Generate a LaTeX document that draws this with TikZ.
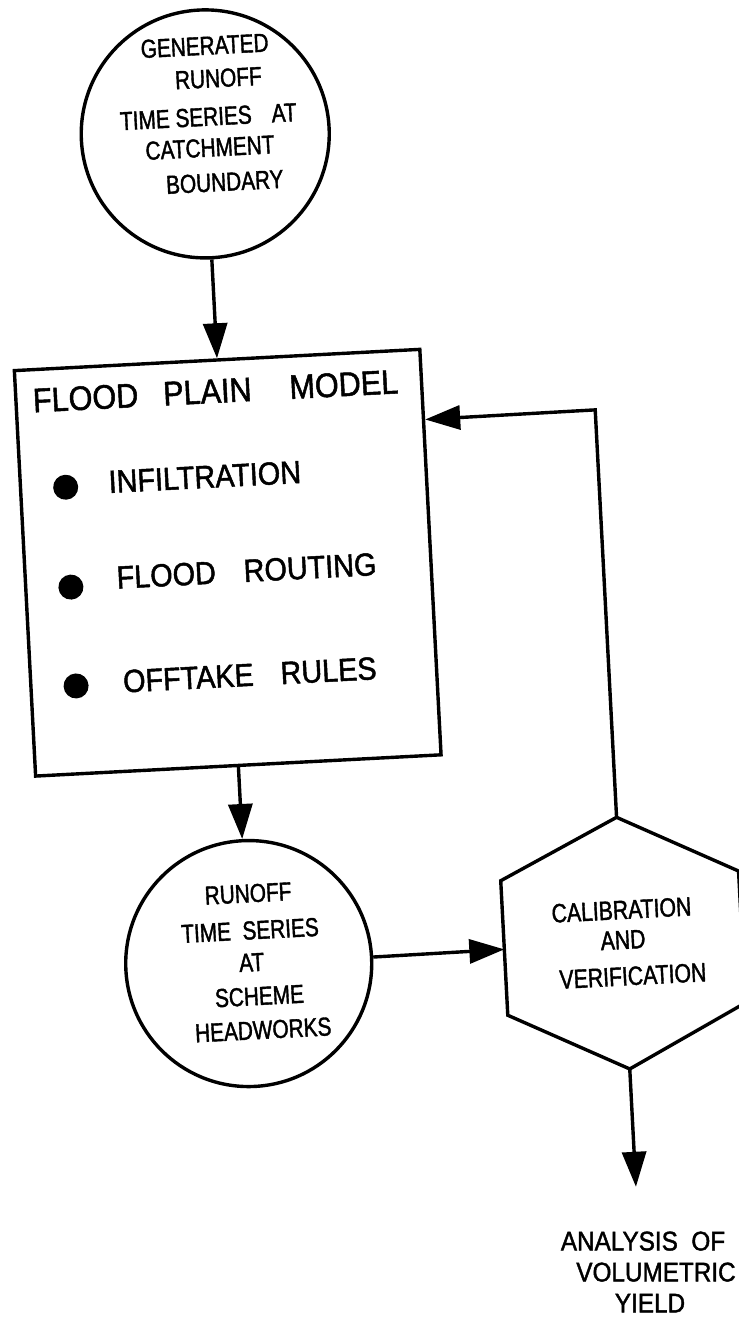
\documentclass[tikz,border=0pt]{standalone}
\usepackage{fontspec}
\setmainfont{Liberation Sans}[FakeStretch=0.9,FakeBold=1.5]
\newfontfamily\narrowfont{Liberation Sans}[FakeStretch=0.8,FakeBold=1.5]
\usetikzlibrary{arrows.meta,positioning}

\begin{document}
\begin{tikzpicture}[x=1pt,y=-1pt,line width=3.4pt,
    arr/.style={-{Triangle[length=35pt,width=24pt]}},
    ring/.style={circle,draw,minimum size=#1,inner sep=0pt},
    modelbox/.style={rectangle,draw,minimum width=406pt,minimum height=406pt,inner sep=0pt},
    blob/.style={circle,fill=black,minimum size=25pt,inner sep=0pt,outer sep=0pt},
    hexcore/.style={rectangle,minimum width=238pt,minimum height=252pt,inner sep=0pt,outer sep=0pt,
      font=\narrowfont\fontsize{26.5}{33}\selectfont,align=center},
    circtext/.style={font=\narrowfont\fontsize{26}{34}\selectfont,align=center,inner sep=0pt},
    titletext/.style={font=\fontsize{34}{40}\selectfont,inner sep=0pt},
    itemtext/.style={font=\fontsize{32}{38}\selectfont,inner sep=0pt},
    yieldtext/.style={font=\fontsize{27}{31}\selectfont,align=center,inner sep=0pt}]
  \useasboundingbox (0,0) rectangle (739,1323);
  \begin{scope}[rotate around={3:(370,660)},transform shape]
    % main chain
    \node[ring=248pt] (gen) at (233,126) {};
    \node[modelbox] (fpm) [below=99pt of gen] {};
    \node[ring=246pt] (runoff) [below=72pt of fpm] {};
    \node[hexcore] (calib) at (608,956) {CALIBRATION\\[-3pt]AND\\[3.5pt]\hspace*{16pt}VERIFICATION};
    \draw (calib.north) -- (calib.29.2) -- (calib.-29.2) -- (calib.south)
      -- (calib.209.2) -- (calib.150.8) -- cycle;
    % texts in the circles
    \node[circtext,xshift=4pt,yshift=19.5pt] (gentxt) at (gen) {GENERATED\\[-1pt]\hspace*{24pt}RUNOFF\\[4pt]TIME SERIES\hspace{20pt}AT\hspace*{26pt}\\[-3pt]CATCHMENT\hspace*{24pt}\\[1pt]\hspace*{26pt}BOUNDARY};
    \node[circtext,xshift=3pt,yshift=1.5pt] (runtxt) at (runoff) {RUNOFF\\[3pt]TIME\ \ SERIES\\[-2pt]AT\hspace*{34pt}\\\hspace*{12pt}SCHEME\\\hspace*{16pt}HEADWORKS};
    % flood plain model contents
    \node[titletext,below right=19pt and 17pt of fpm.north west] (fpmtitle) {FLOOD\hspace{25pt}PLAIN\hspace{38pt}MODEL};
    \node[blob,below right=112pt and 38pt of fpm.north west] (b1) {};
    \node[blob,below=75pt of b1] (b2) {};
    \node[blob,below=74pt of b2] (b3) {};
    \node[itemtext,right=29pt of b1,yshift=3pt] (infil) {INFILTRATION};
    \node[itemtext,right=32pt of b2,yshift=7pt] (routing) {FLOOD\hspace{28pt}ROUTING};
    \node[itemtext,right=33pt of b3,yshift=2pt] (offtake) {OFFTAKE\hspace{27pt}RULES};
    % connectors
    \coordinate[below=72pt of fpm.north east] (fbin);
    \coordinate (fbk) at (608,422);
    \coordinate (ytip) at (608,1200);
    \path[arr] (gen.south) edge (fpm.north)
      (fpm.south) edge (runoff.north)
      (runoff.east) edge (calib.west)
      (calib.south) edge (ytip);
    \draw[arr] (calib.north) -- (fbk) -- (fbin);
  \end{scope}
  \node[yieldtext] (yield) at (650,1272) {ANALYSIS\ \ OF\hspace*{14pt}\\\hspace*{12pt}VOLUMETRIC\\YIELD};
\end{tikzpicture}
\end{document}
